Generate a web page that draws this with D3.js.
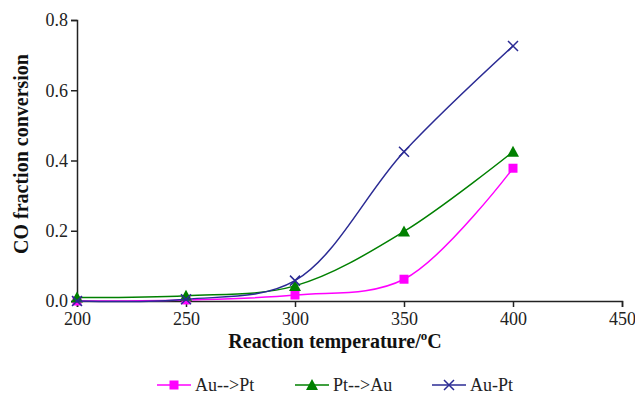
<!DOCTYPE html>
<html><head><meta charset="utf-8">
<script src="https://cdn.jsdelivr.net/npm/d3@7"></script>
<style>body{margin:0;background:#fff}svg{display:block}</style>
</head><body>
<svg id="c" width="635" height="395"></svg>
<script>
const temps = [200, 250, 300, 350, 400];
const auToPt = [0.0, 0.003, 0.017, 0.062, 0.378];
const ptToAu = [0.01, 0.015, 0.043, 0.198, 0.425];
const auPt = [0.0, 0.005, 0.058, 0.425, 0.726];
const xTicks = [200, 250, 300, 350, 400, 450];
const yTicks = [0.0, 0.2, 0.4, 0.6, 0.8];
const seriesNames = ["Au-->Pt", "Pt-->Au", "Au-Pt"];
const seriesColors = ["#ff00ff", "#008000", "#2b2b94"];
const seriesMarkers = ["square", "triangle", "cross"];
const seriesValues = [auToPt, ptToAu, auPt];

const svg = d3.select("#c");
const font = "'Liberation Serif','Times New Roman',serif";
const x = d3.scaleLinear().domain([200, 450]).range([77, 622]);
const y = d3.scaleLinear().domain([0, 0.8]).range([301, 20]);

// axes
const xAxis = svg.append("g").attr("transform", "translate(0,301)")
  .call(d3.axisBottom(x).tickValues(xTicks).tickSizeOuter(0).tickSize(6).tickPadding(5).tickFormat(d3.format("d")));
const yAxis = svg.append("g").attr("transform", "translate(77,0)")
  .call(d3.axisLeft(y).tickValues(yTicks).tickSizeOuter(0).tickSize(6).tickPadding(3).tickFormat(d3.format(".1f")));
[xAxis, yAxis].forEach(a => {
  a.select(".domain").attr("stroke", "#222").attr("stroke-width", 1.5);
  a.selectAll(".tick line").attr("stroke", "#222").attr("stroke-width", 1.5);
  a.selectAll("text").attr("font-family", font).attr("font-size", 18).attr("fill", "#222");
});

// lines
const line = d3.line().x(d => x(d[0])).y(d => y(d[1])).curve(d3.curveCatmullRom.alpha(0.5));

function marker(g, type, cx, cy, color) {
  if (type === "square") {
    g.append("rect").attr("x", cx - 4.5).attr("y", cy - 4.5).attr("width", 9).attr("height", 9).attr("fill", color);
  } else if (type === "triangle") {
    g.append("path").attr("d", `M${cx},${cy-6}L${cx+6},${cy+5}L${cx-6},${cy+5}Z`).attr("fill", color);
  } else {
    g.append("path").attr("d", `M${cx-5},${cy-5}L${cx+5},${cy+5}M${cx-5},${cy+5}L${cx+5},${cy-5}`).attr("stroke", color).attr("stroke-width", 1.5);
  }
}

seriesValues.forEach((vals, i) => {
  const pts = temps.map((t, j) => [t, vals[j]]);
  svg.append("path").attr("d", line(pts)).attr("fill", "none").attr("stroke", seriesColors[i]).attr("stroke-width", 1.5);
  const g = svg.append("g");
  pts.forEach(p => marker(g, seriesMarkers[i], x(p[0]), y(p[1]), seriesColors[i]));
});

// axis titles
svg.append("text").attr("transform", "translate(28,154) rotate(-90)").attr("text-anchor", "middle")
  .attr("font-family", font).attr("font-size", 20).attr("font-weight", "bold").attr("fill", "#111")
  .text("CO fraction conversion");
const xt = svg.append("text").attr("x", 335).attr("y", 348).attr("text-anchor", "middle")
  .attr("font-family", font).attr("font-size", 20).attr("font-weight", "bold").attr("fill", "#111");
xt.append("tspan").text("Reaction temperature/");
xt.append("tspan").attr("font-size", 13).attr("dy", -8).text("o");
xt.append("tspan").attr("dy", 8).text("C");

// legend
const legX = [157, 295, 432];
seriesNames.forEach((n, i) => {
  const g = svg.append("g");
  const ly = 385;
  g.append("line").attr("x1", legX[i]).attr("x2", legX[i] + 34).attr("y1", ly).attr("y2", ly)
    .attr("stroke", seriesColors[i]).attr("stroke-width", 1.5);
  marker(g, seriesMarkers[i], legX[i] + 17, ly, seriesColors[i]);
  g.append("text").attr("x", legX[i] + 38).attr("y", ly + 6).attr("font-family", font).attr("font-size", 18)
    .attr("fill", "#222").text(n);
});
</script>
</body></html>
